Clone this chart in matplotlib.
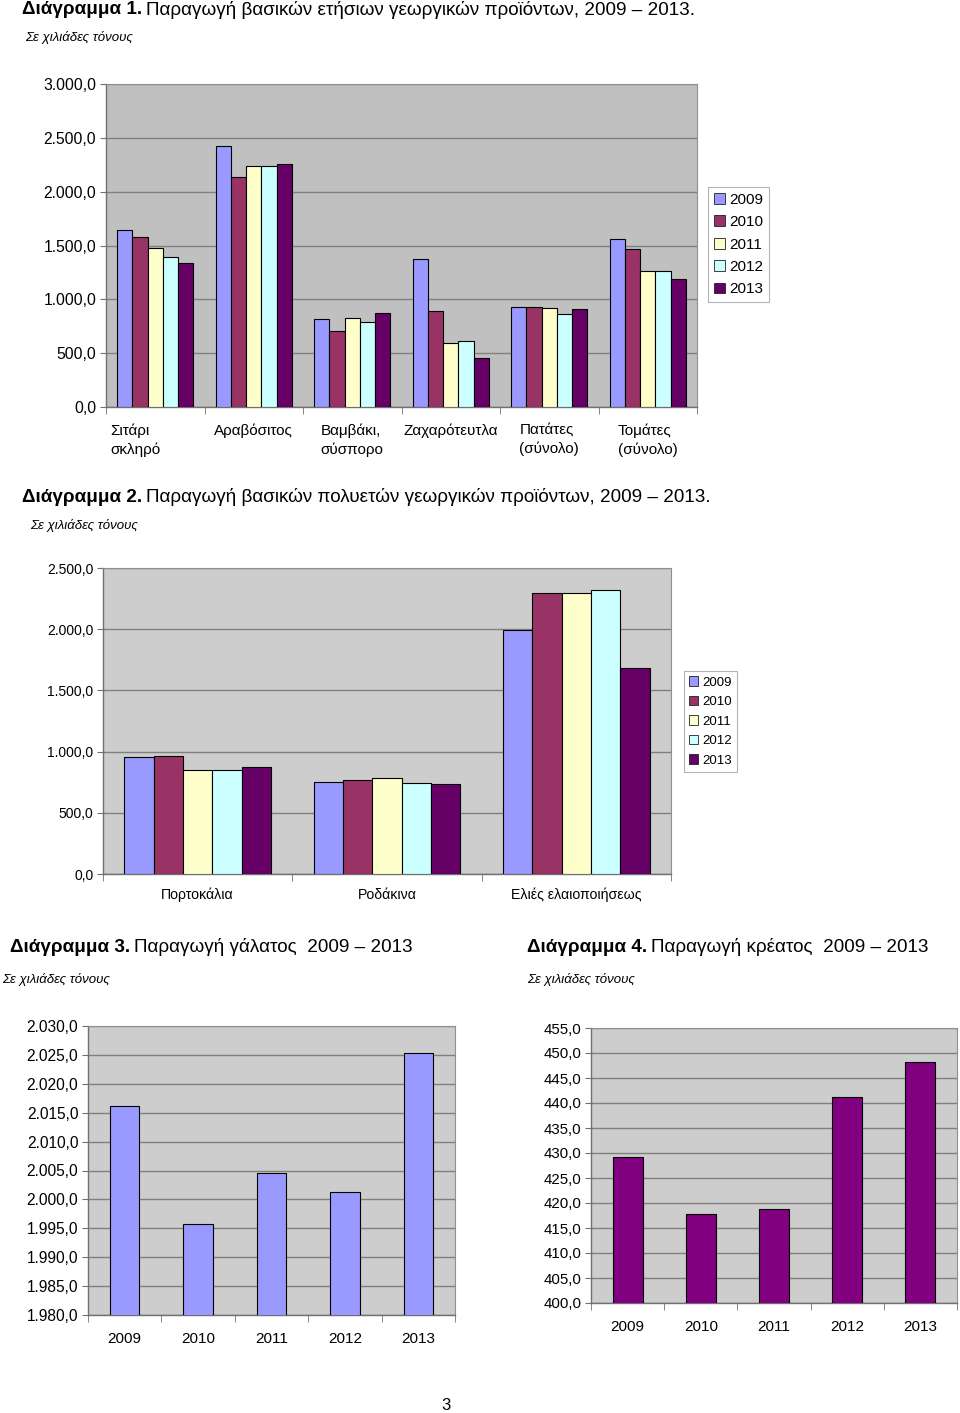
import matplotlib
matplotlib.use("Agg")
import matplotlib.pyplot as plt
import matplotlib.transforms as mtransforms
import numpy as np
from matplotlib.patches import Patch

plt.rcParams['font.family'] = ['Liberation Sans', 'DejaVu Sans']

W, H = 960, 1413

years = ['2009', '2010', '2011', '2012', '2013']
year_colors = ['#9999FF', '#993366', '#FFFFCC', '#CCFFFF', '#660066']

# Διάγραμμα 1
crops1 = ['Σιτάρι\nσκληρό', 'Αραβόσιτος', 'Βαμβάκι,\nσύσπορο', 'Ζαχαρότευτλα',
          'Πατάτες\n(σύνολο)', 'Τομάτες\n(σύνολο)']
crops1_2009 = [1644, 2425, 813, 1375, 930, 1560]
crops1_2010 = [1576, 2135, 707, 892, 930, 1468]
crops1_2011 = [1477, 2240, 825, 596, 918, 1261]
crops1_2012 = [1393, 2240, 791, 615, 865, 1261]
crops1_2013 = [1338, 2258, 874, 451, 908, 1189]

# Διάγραμμα 2
crops2 = ['Πορτοκάλια', 'Ροδάκινα', 'Ελιές ελαιοποιήσεως']
crops2_2009 = [954, 752, 1990]
crops2_2010 = [962, 766, 2295]
crops2_2011 = [853, 788, 2295]
crops2_2012 = [853, 744, 2320]
crops2_2013 = [875, 736, 1685]

# Διάγραμμα 3 / 4
milk = [2016.2, 1995.7, 2004.6, 2001.3, 2025.4]
meat = [429.3, 417.9, 418.8, 441.3, 448.3]


def fmt(v):
    s = f"{v:,.1f}"
    return s.replace(',', 'X').replace('.', ',').replace('X', '.')


def px_axes(fig, x0, y0, x1, y1):
    return fig.add_axes([x0 / W, 1 - y1 / H, (x1 - x0) / W, (y1 - y0) / H])


def style_axes(ax, bg, ticks, ylim, fs, ncat):
    ax.set_facecolor(bg)
    ax.set_ylim(*ylim)
    ax.set_xlim(-0.5, ncat - 0.5)
    ax.set_yticks(ticks)
    ax.set_yticklabels([fmt(t) for t in ticks], fontsize=fs)
    ax.yaxis.grid(True, color='#808080', lw=1.0)
    ax.set_axisbelow(True)
    for s in ['top', 'right']:
        ax.spines[s].set_color('#909090')
        ax.spines[s].set_linewidth(0.8)
    for s in ['left', 'bottom']:
        ax.spines[s].set_color('#707070')
        ax.spines[s].set_linewidth(1.0)
    ax.tick_params(axis='y', length=4, color='#707070', pad=3)
    ax.set_xticks(np.arange(ncat))
    ax.set_xticks(np.arange(ncat + 1) - 0.5, minor=True)
    ax.tick_params(axis='x', which='major', length=0)
    ax.tick_params(axis='x', which='minor', length=5, color='#707070')


def add_title(fig, x, y, bold, rest, fs=13.6):
    t = fig.text(x / W, 1 - y / H, bold, fontsize=fs, fontweight='bold', va='center', ha='left')
    fig.canvas.draw()
    bb = t.get_window_extent()
    fig.text(bb.x1 / W + 0.004, 1 - y / H, rest, fontsize=fs, va='center', ha='left')


def year_legend(fig, x0, y0, x1, y1, fs):
    handles = [Patch(facecolor=c, edgecolor='#202020', lw=0.6, label=y)
               for c, y in zip(year_colors, years)]
    leg = fig.legend(handles=handles, loc='center',
                     bbox_to_anchor=((x0 + x1) / 2 / W, 1 - (y0 + y1) / 2 / H),
                     fontsize=fs, frameon=True, fancybox=False, handlelength=0.7,
                     handleheight=0.7, handletextpad=0.3, borderpad=0.4,
                     labelspacing=0.55, borderaxespad=0)
    leg.get_frame().set_edgecolor('#A0A0A0')
    leg.get_frame().set_linewidth(0.8)


fig = plt.figure(figsize=(9.6, 14.13), dpi=100, facecolor='white')

# ---- Διάγραμμα 1 ----
add_title(fig, 22, 10, 'Διάγραμμα 1.', 'Παραγωγή βασικών ετήσιων γεωργικών προϊόντων, 2009 – 2013.')
fig.text(25 / W, 1 - 37 / H, 'Σε χιλιάδες τόνους', fontsize=9.5, style='italic', va='center')

ax1 = px_axes(fig, 106, 84, 697, 407)
style_axes(ax1, '#C0C0C0', np.arange(0, 3001, 500), (0, 3000), 11.3, len(crops1))
x = np.arange(len(crops1))
bw = 0.155
series1 = [crops1_2009, crops1_2010, crops1_2011, crops1_2012, crops1_2013]
for i, (vals, c) in enumerate(zip(series1, year_colors)):
    ax1.bar(x + (i - 2) * bw, vals, bw, color=c, edgecolor='black', lw=0.8, zorder=3)
ax1.set_xticklabels(crops1, fontsize=11, va='top', linespacing=1.35, multialignment='left')
ax1.tick_params(axis='x', which='major', pad=12)
# πρώτη ετικέτα λίγο αριστερά όπως στο πρωτότυπο
lbl0 = ax1.get_xticklabels()[0]
lbl0.set_transform(lbl0.get_transform() + mtransforms.ScaledTranslation(-0.2, 0, fig.dpi_scale_trans))
year_legend(fig, 712, 186, 765, 303, 11)

# ---- Διάγραμμα 2 ----
add_title(fig, 22, 497, 'Διάγραμμα 2.', 'Παραγωγή βασικών πολυετών γεωργικών προϊόντων, 2009 – 2013.')
fig.text(30 / W, 1 - 526 / H, 'Σε χιλιάδες τόνους', fontsize=9.5, style='italic', va='center')

ax2 = px_axes(fig, 103, 568, 671, 874)
style_axes(ax2, '#CDCDCD', np.arange(0, 2501, 500), (0, 2500), 10, len(crops2))
x = np.arange(len(crops2))
bw = 0.155
series2 = [crops2_2009, crops2_2010, crops2_2011, crops2_2012, crops2_2013]
for i, (vals, c) in enumerate(zip(series2, year_colors)):
    ax2.bar(x + (i - 2) * bw, vals, bw, color=c, edgecolor='black', lw=0.8, zorder=3)
ax2.set_xticklabels(crops2, fontsize=10.2)
ax2.tick_params(axis='x', which='major', pad=10)
year_legend(fig, 685, 671, 736, 772, 9.5)

# ---- Διάγραμμα 3 ----
add_title(fig, 10, 947, 'Διάγραμμα 3.', 'Παραγωγή γάλατος  2009 – 2013')
fig.text(2 / W, 1 - 979 / H, 'Σε χιλιάδες τόνους', fontsize=9.5, style='italic', va='center')

ax3 = px_axes(fig, 88, 1026, 455, 1315)
style_axes(ax3, '#CDCDCD', np.arange(1980, 2031, 5), (1980, 2030), 11.2, len(years))
ax3.bar(np.arange(len(years)), milk, 0.4, color='#9999FF', edgecolor='black', lw=0.8, zorder=3)
ax3.set_xticklabels(years, fontsize=11)
ax3.tick_params(axis='x', which='major', pad=12)

# ---- Διάγραμμα 4 ----
add_title(fig, 527, 947, 'Διάγραμμα 4.', 'Παραγωγή κρέατος  2009 – 2013')
fig.text(527 / W, 1 - 979 / H, 'Σε χιλιάδες τόνους', fontsize=9.5, style='italic', va='center')

ax4 = px_axes(fig, 591, 1028, 957, 1303)
style_axes(ax4, '#CDCDCD', np.arange(400, 456, 5), (400, 455), 10.8, len(years))
ax4.bar(np.arange(len(years)), meat, 0.41, color='#800080', edgecolor='black', lw=0.8, zorder=3)
ax4.set_xticklabels(years, fontsize=11)
ax4.tick_params(axis='x', which='major', pad=12)

fig.text(446 / W, 1 - 1405 / H, '3', fontsize=12, ha='center', va='center')

fig.savefig('out.png', dpi=100, facecolor='white')
